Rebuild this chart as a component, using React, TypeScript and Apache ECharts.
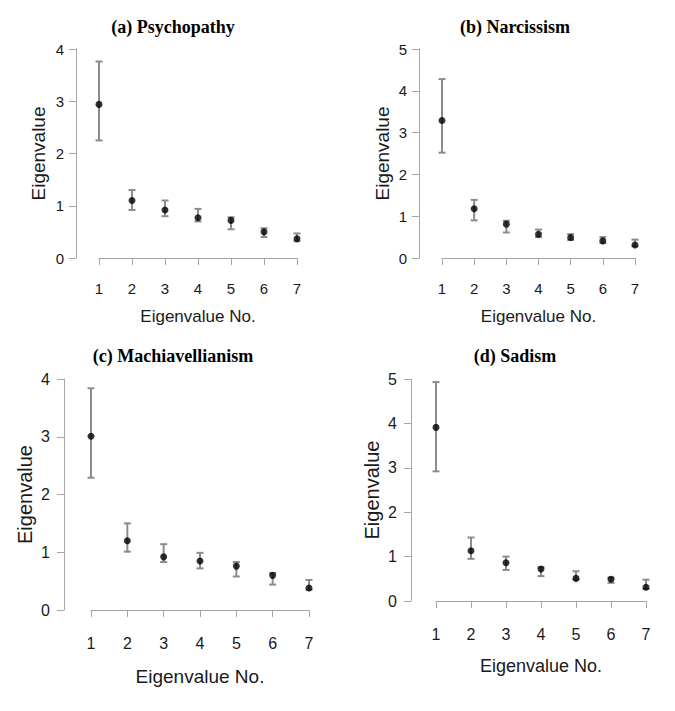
import React, { useEffect, useRef } from "react";
import * as echarts from "echarts";

const eigenNo = [1, 2, 3, 4, 5, 6, 7];

const psyMean = [2.94, 1.1, 0.92, 0.77, 0.72, 0.5, 0.37];
const psyLow = [2.25, 0.92, 0.8, 0.7, 0.55, 0.4, 0.32];
const psyHigh = [3.76, 1.3, 1.1, 0.94, 0.78, 0.57, 0.47];

const narMean = [3.29, 1.18, 0.81, 0.57, 0.49, 0.41, 0.31];
const narLow = [2.52, 0.9, 0.61, 0.5, 0.43, 0.36, 0.28];
const narHigh = [4.28, 1.39, 0.89, 0.68, 0.57, 0.5, 0.44];

const macMean = [3.01, 1.2, 0.92, 0.85, 0.76, 0.6, 0.38];
const macLow = [2.29, 1.01, 0.83, 0.72, 0.58, 0.44, 0.35];
const macHigh = [3.84, 1.5, 1.14, 0.99, 0.83, 0.64, 0.52];

const sadMean = [3.91, 1.13, 0.86, 0.72, 0.51, 0.49, 0.31];
const sadLow = [2.92, 0.95, 0.7, 0.56, 0.48, 0.41, 0.27];
const sadHigh = [4.93, 1.43, 1.0, 0.76, 0.67, 0.53, 0.48];

const panelTitles = ["(a) Psychopathy", "(b) Narcissism", "(c) Machiavellianism", "(d) Sadism"];
const yMaxes = [4, 5, 4, 5];
const xTitle = "Eigenvalue No.";
const yTitle = "Eigenvalue";

const SANS = "Liberation Sans";
const SERIF = "Liberation Serif";

export default function App() {
  const ref = useRef<HTMLDivElement>(null);
  useEffect(() => {
    if (!ref.current) return;
    const chart = echarts.init(ref.current, undefined, { renderer: "svg" });

    const layouts = [
      { left: 99, top: 49, width: 198, height: 209, yOff: 23, xOff: 10, tick: 15, yMargin: 12, xMargin: 13, xName: 17, yName: 19, yGap: 28, xGap: 40, tx: 173, ty: 27 },
      { left: 442, top: 49, width: 193, height: 209, yOff: 23, xOff: 10, tick: 15, yMargin: 12, xMargin: 13, xName: 17, yName: 19, yGap: 27, xGap: 40, tx: 515, ty: 27 },
      { left: 91, top: 379, width: 218, height: 231, yOff: 27, xOff: 11, tick: 16, yMargin: 14, xMargin: 14, xName: 19, yName: 20, yGap: 29, xGap: 46, tx: 173, ty: 356 },
      { left: 436, top: 379, width: 210, height: 222, yOff: 25, xOff: 11, tick: 16, yMargin: 14, xMargin: 14, xName: 18, yName: 20, yGap: 29, xGap: 45, tx: 515, ty: 356 },
    ];
    const means = [psyMean, narMean, macMean, sadMean];
    const lows = [psyLow, narLow, macLow, sadLow];
    const highs = [psyHigh, narHigh, macHigh, sadHigh];

    const axisColor = "#a6a6a6";
    const textColor = "#1a1a1a";

    const grid = layouts.map((l) => ({ left: l.left, top: l.top, width: l.width, height: l.height, containLabel: false }));
    const xAxis = layouts.map((l, i) => ({
      type: "value",
      gridIndex: i,
      min: 1,
      max: 7,
      interval: 1,
      offset: l.xOff,
      name: xTitle,
      nameLocation: "middle",
      nameGap: l.xGap,
      nameTextStyle: { fontFamily: SANS, fontSize: l.xName, color: textColor },
      axisLine: { show: true, lineStyle: { color: axisColor, width: 1 } },
      axisTick: { show: true, length: 7, lineStyle: { color: axisColor } },
      axisLabel: { margin: l.xMargin, fontFamily: SANS, fontSize: l.tick, color: textColor },
      splitLine: { show: false },
    }));
    const yAxis = layouts.map((l, i) => ({
      type: "value",
      gridIndex: i,
      min: 0,
      max: yMaxes[i],
      interval: 1,
      offset: l.yOff,
      name: yTitle,
      nameLocation: "middle",
      nameGap: l.yGap,
      nameRotate: 90,
      nameTextStyle: { fontFamily: SANS, fontSize: l.yName, color: textColor },
      axisLine: { show: true, lineStyle: { color: axisColor, width: 1 } },
      axisTick: { show: true, length: 7, lineStyle: { color: axisColor } },
      axisLabel: { margin: l.yMargin, fontFamily: SANS, fontSize: l.tick, color: textColor },
      splitLine: { show: false },
    }));

    const series: any[] = [];
    for (let i = 0; i < 4; i++) {
      series.push({
        type: "custom",
        xAxisIndex: i,
        yAxisIndex: i,
        clip: false,
        encode: { x: 0, y: [1, 2] },
        data: eigenNo.map((n, k) => [n, lows[i][k], highs[i][k]]),
        renderItem: (params: any, api: any) => {
          const x = api.value(0);
          const lo = api.coord([x, api.value(1)]);
          const hi = api.coord([x, api.value(2)]);
          const hw = 3.5;
          const style = { stroke: "#8c8c8c", lineWidth: 2 };
          return {
            type: "group",
            children: [
              { type: "line", shape: { x1: hi[0], y1: hi[1], x2: lo[0], y2: lo[1] }, style },
              { type: "line", shape: { x1: hi[0] - hw, y1: hi[1], x2: hi[0] + hw, y2: hi[1] }, style },
              { type: "line", shape: { x1: lo[0] - hw, y1: lo[1], x2: lo[0] + hw, y2: lo[1] }, style },
            ],
          };
        },
        z: 2,
      });
      series.push({
        type: "scatter",
        xAxisIndex: i,
        yAxisIndex: i,
        symbol: "circle",
        symbolSize: 7,
        itemStyle: { color: "#000" },
        data: eigenNo.map((n, k) => [n, means[i][k]]),
        z: 3,
      });
    }

    const graphic = layouts.map((l, i) => ({
      type: "text",
      x: l.tx,
      y: l.ty,
      style: {
        text: panelTitles[i],
        font: `bold 18px "${SERIF}"`,
        fill: "#000",
        textAlign: "center",
        textVerticalAlign: "middle",
      },
    }));

    chart.setOption({
      animation: false,
      backgroundColor: "#fff",
      grid,
      xAxis,
      yAxis,
      series,
      graphic,
    });
    return () => chart.dispose();
  }, []);
  return (
    <div
      ref={ref}
      style={{ position: "absolute", left: 0, top: 0, width: 675, height: 711 }}
    />
  );
}
